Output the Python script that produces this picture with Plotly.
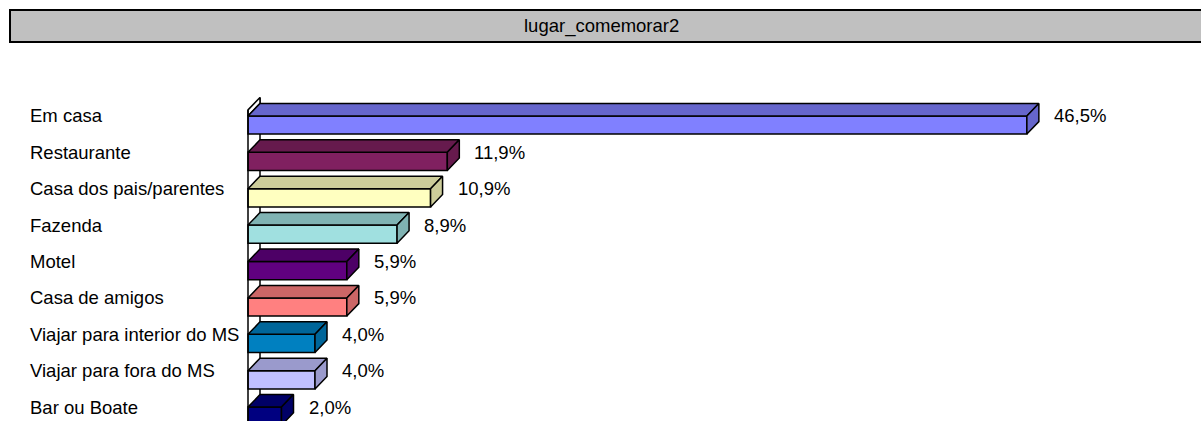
import plotly.graph_objects as go

# ---- data ----
categories = ["Em casa", "Restaurante", "Casa dos pais/parentes", "Fazenda", "Motel",
              "Casa de amigos", "Viajar para interior do MS", "Viajar para fora do MS",
              "Bar ou Boate"]
values = [46.5, 11.9, 10.9, 8.9, 5.9, 5.9, 4.0, 4.0, 2.0]
front_colors = ["#8080FF", "#802060", "#FFFFC0", "#A0E0E0", "#600080",
                "#FF8080", "#0080C0", "#C0C0FF", "#000080"]
dark_colors = ["#6666CC", "#661A4D", "#CCCC9A", "#80B3B3", "#4D0066",
               "#CC6666", "#00669A", "#9A9ACC", "#000066"]
title_text = "lugar_comemorar2"

# ---- geometry / style ----
W, H = 1201, 421
PX_X = 16.75      # pixels per percent
X0_PX = 248       # pixel of value 0
PITCH = 36.4      # pixels per category
Y0_PX = 125       # pixel center of first front face
xr = [-X0_PX / PX_X, (W - X0_PX) / PX_X]
yr = [(H - Y0_PX) / PITCH, -Y0_PX / PITCH]
DX = 12 / PX_X
DY = 12.5 / PITCH
BW = 0.5
FONT = "Liberation Sans, Arial, sans-serif"
FS = 18.5
LW = 1.5

idx = list(range(len(categories)))
fig = go.Figure()

# back wall edge, visible between bars
bx, by = [], []
yt0 = -BW / 2
wall_t = 6 / PITCH
bx += [DX, DX, None]
by += [yt0 - DY - wall_t, yt0 - DY, None]
for i in idx:
    top_b = i + BW / 2
    nxt = (i + 1 - BW / 2 - DY) if i + 1 < len(idx) else yr[0]
    bx += [DX, DX, None]
    by += [top_b, nxt, None]
fig.add_trace(go.Scatter(x=bx, y=by, mode="lines", line=dict(color="black", width=LW),
                         hoverinfo="skip", showlegend=False))

# wall top strip
fig.add_trace(go.Scatter(
    x=[0, DX, DX, 0, 0],
    y=[yt0, yt0 - DY, yt0 - DY - wall_t, yt0 - wall_t, yt0],
    mode="lines", fill="toself", fillcolor="white",
    line=dict(color="black", width=LW), hoverinfo="skip", showlegend=False))

# front faces
fig.add_trace(go.Bar(
    x=values, y=idx, orientation="h", width=BW,
    marker=dict(color=front_colors, line=dict(color="black", width=LW)),
    hoverinfo="skip", showlegend=False))

# top and side faces
for i, v in zip(idx, values):
    yt = i - BW / 2
    fig.add_trace(go.Scatter(
        x=[0, v, v + DX, DX, 0], y=[yt, yt, yt - DY, yt - DY, yt],
        mode="lines", fill="toself", fillcolor=dark_colors[i],
        line=dict(color="black", width=LW), hoverinfo="skip", showlegend=False))
    fig.add_trace(go.Scatter(
        x=[v, v + DX, v + DX, v, v], y=[yt, yt - DY, yt - DY + BW, yt + BW, yt],
        mode="lines", fill="toself", fillcolor=dark_colors[i],
        line=dict(color="black", width=LW), hoverinfo="skip", showlegend=False))

# front axis line
fig.add_trace(go.Scatter(x=[0, 0], y=[yt0 - wall_t, yr[0]], mode="lines",
                         line=dict(color="black", width=LW),
                         hoverinfo="skip", showlegend=False))

# labels
for i, (c, v) in enumerate(zip(categories, values)):
    fig.add_annotation(x=(28 - X0_PX) / PX_X, y=i - BW / 2, text=c, showarrow=False,
                       xanchor="left", yanchor="middle",
                       font=dict(family=FONT, size=FS, color="black"))
    fig.add_annotation(x=v + DX + 13 / PX_X, y=i - BW / 2,
                       text=f"{v:.1f}".replace(".", ",") + "%", showarrow=False,
                       xanchor="left", yanchor="middle",
                       font=dict(family=FONT, size=FS, color="black"))

# title box
fig.add_shape(type="rect", xref="paper", yref="paper",
              x0=10 / W, x1=1.02, y0=1 - 42 / H, y1=1 - 10 / H,
              fillcolor="#C0C0C0", line=dict(color="black", width=2), layer="above")
fig.add_annotation(xref="paper", yref="paper", x=601 / W, y=1 - 26 / H,
                   text=title_text, showarrow=False, xanchor="center", yanchor="middle",
                   font=dict(family=FONT, size=FS, color="black"))

fig.update_layout(
    width=W, height=H, autosize=False,
    margin=dict(l=0, r=0, t=0, b=0),
    paper_bgcolor="white", plot_bgcolor="white",
    xaxis=dict(range=xr, visible=False, fixedrange=True),
    yaxis=dict(range=yr, visible=False, fixedrange=True),
    showlegend=False,
)
fig.write_html("out.html", config={"displayModeBar": False},
               post_script="document.body.style.margin='0';document.body.style.overflow='hidden';")
